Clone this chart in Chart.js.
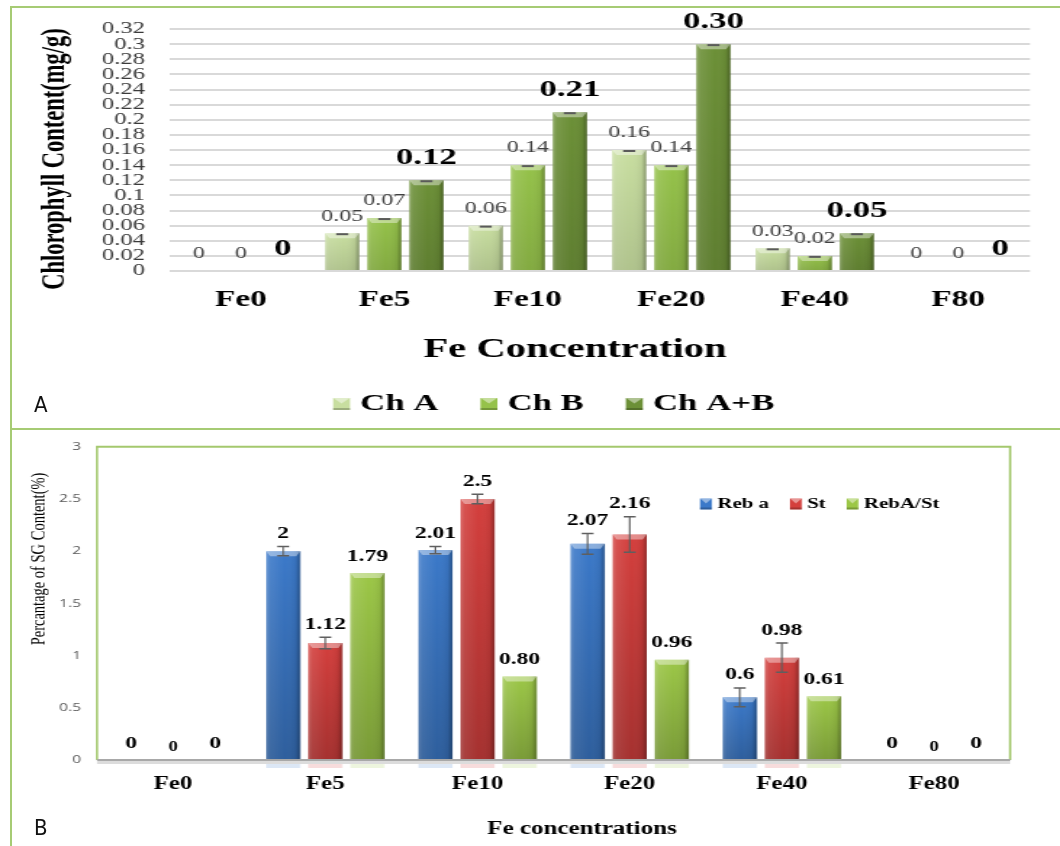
<!DOCTYPE html>
<html>
<head>
<meta charset="utf-8">
<title>Fe concentration: chlorophyll and SG content</title>
<script src="https://cdn.jsdelivr.net/npm/chart.js@4.4.1/dist/chart.umd.min.js"></script>
<style>
  html, body { margin: 0; padding: 0; background: #fff; }
  body { width: 1060px; height: 846px; position: relative; overflow: hidden; }
  canvas { position: absolute; left: 0; display: block; }
  .frame { position: absolute; pointer-events: none; border-color: #a6cb74; border-style: solid; }
  #frameA { left: 10px; top: 6px; width: 1100px; height: 420px; border-width: 2px; }
  #frameB { left: 10px; top: 428px; width: 0; height: 430px; border-width: 0 0 0 2px; }
  .tag { position: absolute; font-family: "Liberation Sans Narrow", "DejaVu Sans Condensed", "Liberation Sans", sans-serif;
         font-size: 22px; line-height: 1; color: #111; }
</style>
</head>
<body>
<!-- each canvas is drawn narrow and widened by CSS (wide-set figure lettering) -->
<canvas id="chartA" width="731" height="428" style="top:0;width:1060px;height:428px"></canvas>
<canvas id="chartB" width="785" height="418" style="top:428px;width:1060px;height:418px"></canvas>
<div class="frame" id="frameA"></div>
<div class="frame" id="frameB"></div>
<div class="tag" style="left:34px;top:394px">A</div>
<div class="tag" style="left:34px;top:817px">B</div>
<script>
// ---------- Panel A: chlorophyll content (mg/g) ----------
const categoriesA = ['Fe0', 'Fe5', 'Fe10', 'Fe20', 'Fe40', 'F80'];
const chlA   = [0, 0.05, 0.06, 0.16, 0.03, 0];
const chlB   = [0, 0.07, 0.14, 0.14, 0.02, 0];
const chlAB  = [0, 0.12, 0.21, 0.30, 0.05, 0];
const chlErr = [0, 0, 0, 0, 0, 0];
const yTicksA = [0, 0.02, 0.04, 0.06, 0.08, 0.1, 0.12, 0.14, 0.16, 0.18, 0.2, 0.22, 0.24, 0.26, 0.28, 0.3, 0.32];

// ---------- Panel B: SG content (%) ----------
const categoriesB = ['Fe0', 'Fe5', 'Fe10', 'Fe20', 'Fe40', 'Fe80'];
const rebA     = [0, 2, 2.01, 2.07, 0.6, 0];
const stev     = [0, 1.12, 2.5, 2.16, 0.98, 0];
const rebAtoSt = [0, 1.79, 0.80, 0.96, 0.61, 0];
const rebAErr  = [0, 0.045, 0.035, 0.10, 0.09, 0];
const stevErr  = [0, 0.055, 0.045, 0.17, 0.14, 0];
const yTicksB  = [0, 0.5, 1, 1.5, 2, 2.5, 3];

const SERIF = '"Liberation Serif", "Times New Roman", serif';
const SANS = '"Open Sans", "Liberation Sans", sans-serif';

const trimNum = v => String(Math.round(v * 100) / 100);
const fixed2 = v => (v === 0 ? '0' : v.toFixed(2));

// Bevel shading over a bar element (3-D look)
function shadeBar(ctx, el, dark) {
  const p = el.getProps(['x', 'y', 'base', 'width'], true);
  const h = p.base - p.y;
  if (h <= 0.5) return;
  const l = p.x - p.width / 2, r = p.x + p.width / 2;
  ctx.save();
  let g = ctx.createLinearGradient(l, 0, r, 0);
  g.addColorStop(0, 'rgba(255,255,255,0.25)');
  g.addColorStop(0.12, 'rgba(255,255,255,0.10)');
  g.addColorStop(0.55, 'rgba(255,255,255,0)');
  g.addColorStop(0.86, 'rgba(0,0,0,0.06)');
  g.addColorStop(1, 'rgba(0,0,0,0.30)');
  ctx.fillStyle = g;
  ctx.fillRect(l, p.y, p.width, h);
  g = ctx.createLinearGradient(0, p.y, 0, p.base);
  g.addColorStop(0, 'rgba(0,0,0,0)');
  g.addColorStop(1, 'rgba(0,0,0,' + dark + ')');
  ctx.fillStyle = g;
  ctx.fillRect(l, p.y, p.width, h);
  const bh = Math.min(5, h);
  ctx.fillStyle = 'rgba(255,255,255,0.40)';
  ctx.beginPath();
  ctx.moveTo(l, p.y); ctx.lineTo(r, p.y);
  ctx.lineTo(r - 3, p.y + bh); ctx.lineTo(l + 3, p.y + bh);
  ctx.closePath(); ctx.fill();
  ctx.restore();
}

function legendRow(ctx, chart, o) {
  ctx.save();
  ctx.font = o.font;
  ctx.textBaseline = 'middle';
  ctx.textAlign = 'left';
  let x = o.x;
  chart.data.datasets.forEach(ds => {
    const t = o.y - o.bh / 2;
    ctx.fillStyle = ds.backgroundColor;
    ctx.fillRect(x, t, o.bw, o.bh);
    ctx.fillStyle = 'rgba(255,255,255,0.45)';
    ctx.beginPath();
    ctx.moveTo(x, t); ctx.lineTo(x + o.bw, t); ctx.lineTo(x + o.bw / 2, t + o.bh * 0.45);
    ctx.closePath(); ctx.fill();
    ctx.fillStyle = 'rgba(0,0,0,0.22)';
    ctx.fillRect(x, t + o.bh - 2, o.bw, 2);
    x += o.bw + o.gap;
    ctx.fillStyle = '#000';
    ctx.fillText(ds.label, x, o.y);
    x += ctx.measureText(ds.label).width + o.itemGap;
  });
  ctx.restore();
}

function rotatedText(ctx, text, x, y, font) {
  ctx.save();
  ctx.translate(x, y);
  ctx.rotate(-Math.PI / 2);
  ctx.font = font;
  ctx.fillStyle = '#000';
  ctx.textAlign = 'center';
  ctx.textBaseline = 'middle';
  ctx.fillText(text, 0, 0);
  ctx.restore();
}

// ---------- chart A ----------
const panelA = {
  id: 'panelA',
  afterDatasetsDraw(chart) {
    const ctx = chart.ctx;
    const ys = chart.scales.y;
    chart.data.datasets.forEach((ds, i) => {
      const meta = chart.getDatasetMeta(i);
      meta.data.forEach((el, j) => {
        shadeBar(ctx, el, 0.12);
        const v = ds.data[j];
        if (v > 0) {
          // small error cap at the bar top
          const e = ds.err[j];
          const yt = ys.getPixelForValue(v + e);
          ctx.save();
          ctx.strokeStyle = '#5a5a5a';
          ctx.lineWidth = 2;
          ctx.beginPath(); ctx.moveTo(el.x - 4.2, yt + 1); ctx.lineTo(el.x + 4.2, yt + 1); ctx.stroke();
          ctx.restore();
        }
      });
    });
    // value labels
    chart.data.datasets.forEach((ds, i) => {
      const meta = chart.getDatasetMeta(i);
      ctx.save();
      ctx.font = ds.labelFont;
      ctx.fillStyle = ds.labelColor;
      ctx.textAlign = 'center';
      ctx.textBaseline = 'middle';
      meta.data.forEach((el, j) => {
        ctx.fillText(fixed2(ds.data[j]), el.x, el.y - ds.labelOffset);
      });
      ctx.restore();
    });
  },
  afterDraw(chart) {
    const ctx = chart.ctx;
    ctx.save();
    ctx.font = 'bold 28px ' + SERIF;
    ctx.fillStyle = '#000';
    ctx.textAlign = 'center';
    ctx.textBaseline = 'middle';
    ctx.fillText('Fe Concentration', 396.6, 350);
    ctx.restore();
    rotatedText(ctx, 'Chlorophyll Content(mg/g)', 38.6, 159, 'bold 22.5px ' + SERIF);
    legendRow(ctx, chart, { x: 229.7, y: 404, bw: 11.7, bh: 12, gap: 6.9, itemGap: 29, font: 'bold 24px ' + SERIF });
  }
};

new Chart(document.getElementById('chartA'), {
  type: 'bar',
  data: {
    labels: categoriesA,
    datasets: [
      { label: 'Ch A', data: chlA, err: chlErr, backgroundColor: '#c8dea0',
        labelFont: '16.5px ' + SERIF, labelColor: '#404040', labelOffset: 17 },
      { label: 'Ch B', data: chlB, err: chlErr, backgroundColor: '#95c24a',
        labelFont: '16.5px ' + SERIF, labelColor: '#404040', labelOffset: 17 },
      { label: 'Ch A+B', data: chlAB, err: chlErr, backgroundColor: '#6c9037',
        labelFont: 'bold 24px ' + SERIF, labelColor: '#000', labelOffset: 22 }
    ]
  },
  options: {
    responsive: false,
    animation: false,
    devicePixelRatio: 1,
    categoryPercentage: 0.88,
    barPercentage: 0.81,
    layout: { padding: { left: 0, right: 20.7, top: 29, bottom: 0 } },
    plugins: { legend: { display: false }, tooltip: { enabled: false } },
    scales: {
      x: {
        grid: { display: false, drawTicks: false },
        border: { display: false },
        ticks: { font: { family: SERIF, size: 23, weight: 'bold' }, color: '#000', padding: 15,
                 maxRotation: 0, autoSkip: false },
        afterFit(s) { s.height = 157; }
      },
      y: {
        min: 0, max: 0.32,
        grid: { color: '#d9d9d9', lineWidth: 2, drawTicks: false },
        border: { display: false },
        afterBuildTicks(s) { s.ticks = yTicksA.map(v => ({ value: v })); },
        ticks: { font: { family: SERIF, size: 17, lineHeight: 0.85 }, color: '#3a3a3a', padding: 16.6,
                 autoSkip: false, callback: v => trimNum(v) },
        afterFit(s) { s.width = 116.6; }
      }
    }
  },
  plugins: [panelA]
});

// ---------- chart B ----------
const panelB = {
  id: 'panelB',
  afterDatasetsDraw(chart) {
    const ctx = chart.ctx;
    const ys = chart.scales.y;
    const ca = chart.chartArea;
    // bevels and faint reflections below the axis
    chart.data.datasets.forEach((ds, i) => {
      const meta = chart.getDatasetMeta(i);
      meta.data.forEach((el, j) => {
        shadeBar(ctx, el, 0.22);
        if (ds.data[j] > 0) {
          ctx.save();
          ctx.globalAlpha = 0.18;
          ctx.fillStyle = ds.backgroundColor;
          ctx.fillRect(el.x - el.width / 2, ca.bottom + 2, el.width, 6);
          ctx.restore();
        }
      });
    });
    // plot frame
    ctx.save();
    ctx.strokeStyle = '#a4c86e';
    ctx.lineWidth = 1.6;
    ctx.beginPath();
    ctx.moveTo(ca.left, ca.bottom); ctx.lineTo(ca.left, ca.top);
    ctx.moveTo(ca.right, ca.top); ctx.lineTo(ca.right, ca.bottom);
    ctx.stroke();
    ctx.lineWidth = 2;
    ctx.beginPath(); ctx.moveTo(ca.left - 0.8, ca.top); ctx.lineTo(ca.right + 0.8, ca.top); ctx.stroke();
    ctx.strokeStyle = '#dcdcdc';
    ctx.lineWidth = 3;
    ctx.beginPath(); ctx.moveTo(ca.left, ca.bottom + 2.5); ctx.lineTo(ca.right, ca.bottom + 2.5); ctx.stroke();
    ctx.strokeStyle = '#a8a8a8';
    ctx.lineWidth = 2;
    ctx.beginPath(); ctx.moveTo(ca.left, ca.bottom); ctx.lineTo(ca.right, ca.bottom); ctx.stroke();
    ctx.restore();
    // error bars
    chart.data.datasets.forEach((ds, i) => {
      if (!ds.err) return;
      const meta = chart.getDatasetMeta(i);
      ctx.save();
      ctx.strokeStyle = '#5f5f5f';
      meta.data.forEach((el, j) => {
        const v = ds.data[j], e = ds.err[j];
        if (v <= 0) return;
        const yt = ys.getPixelForValue(v + e), yb = ys.getPixelForValue(v - e);
        ctx.lineWidth = 1.2;
        ctx.beginPath(); ctx.moveTo(el.x, yt); ctx.lineTo(el.x, yb); ctx.stroke();
        ctx.lineWidth = 1.5;
        ctx.beginPath();
        ctx.moveTo(el.x - 4.4, yt); ctx.lineTo(el.x + 4.4, yt);
        ctx.moveTo(el.x - 4.4, yb); ctx.lineTo(el.x + 4.4, yb);
        ctx.stroke();
      });
      ctx.restore();
    });
    // value labels
    chart.data.datasets.forEach((ds, i) => {
      const meta = chart.getDatasetMeta(i);
      ctx.save();
      ctx.fillStyle = '#000';
      ctx.textAlign = 'center';
      ctx.textBaseline = 'middle';
      meta.data.forEach((el, j) => {
        const v = ds.data[j];
        const txt = ds.fixedLabel ? fixed2(v) : trimNum(v);
        let y = el.y - 17;
        let size = 17.5;
        if (v === 0 && i === 1) { size = 14; y = el.y - 13; }
        if (ds.err && v > 0) y = Math.min(y, ys.getPixelForValue(v + ds.err[j]) - 13);
        ctx.font = 'bold ' + size + 'px ' + SERIF;
        ctx.fillText(txt, el.x, y);
      });
      ctx.restore();
    });
  },
  afterDraw(chart) {
    const ctx = chart.ctx;
    ctx.save();
    ctx.font = 'bold 18.5px ' + SERIF;
    ctx.fillStyle = '#000';
    ctx.textAlign = 'center';
    ctx.textBaseline = 'middle';
    ctx.fillText('Fe concentrations', 431, 401);
    ctx.restore();
    rotatedText(ctx, 'Percantage of SG Content(%)', 29.6, 131, '14.5px ' + SERIF);
    legendRow(ctx, chart, { x: 518.5, y: 76, bw: 8.7, bh: 11, gap: 4, itemGap: 15.5, font: 'bold 15.5px ' + SERIF });
  }
};

new Chart(document.getElementById('chartB'), {
  type: 'bar',
  data: {
    labels: categoriesB,
    datasets: [
      { label: 'Reb a', data: rebA, err: rebAErr, backgroundColor: '#3b79c9' },
      { label: 'St', data: stev, err: stevErr, backgroundColor: '#d43f3d' },
      { label: 'RebA/St', data: rebAtoSt, backgroundColor: '#9cc747', fixedLabel: true }
    ]
  },
  options: {
    responsive: false,
    animation: false,
    devicePixelRatio: 1,
    categoryPercentage: 0.83,
    barPercentage: 0.81,
    layout: { padding: { left: 0, right: 36.9, top: 10, bottom: 0 } },
    plugins: { legend: { display: false }, tooltip: { enabled: false } },
    scales: {
      x: {
        grid: { display: false, drawTicks: false },
        border: { display: false },
        ticks: { font: { family: SERIF, size: 18.5, weight: 'bold' }, color: '#000', padding: 12.9,
                 maxRotation: 0, autoSkip: false },
        afterFit(s) { s.height = 86; }
      },
      y: {
        min: 0, max: 3,
        grid: { display: false, drawTicks: false },
        border: { display: false },
        afterBuildTicks(s) { s.ticks = yTicksB.map(v => ({ value: v })); },
        ticks: { font: { family: SANS, size: 11.5 }, color: '#595959', padding: 11.85,
                 autoSkip: false, callback: v => trimNum(v) },
        afterFit(s) { s.width = 71.85; }
      }
    }
  },
  plugins: [panelB]
});
</script>
</body>
</html>
